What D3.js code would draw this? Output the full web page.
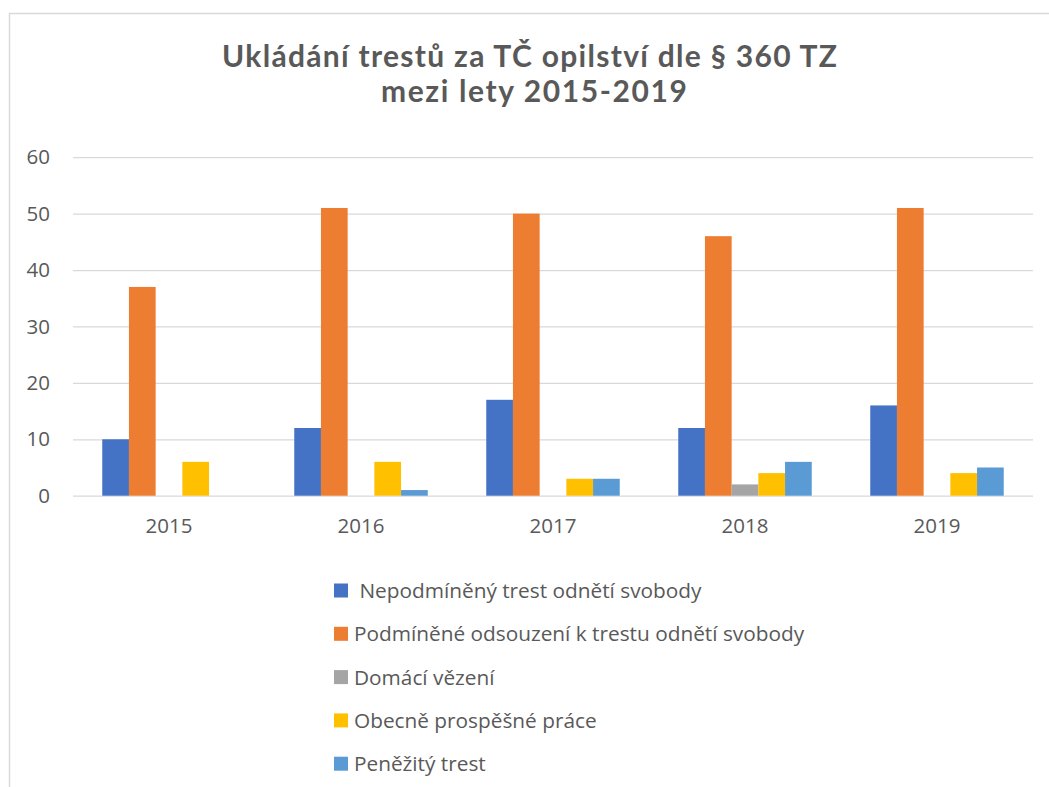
<!DOCTYPE html>
<meta charset="utf-8">
<script src="https://d3js.org/d3.v7.min.js"></script>
<style>
  body { margin: 0; background: #fff; }
  text { fill: #595959; }
</style>
<div id="chart"></div>
<script>
// data
var years = ["2015", "2016", "2017", "2018", "2019"];
var seriesNames = [
  " Nepodmíněný trest odnětí svobody",
  "Podmíněné odsouzení k trestu odnětí svobody",
  "Domácí vězení",
  "Obecně prospěšné práce",
  "Peněžitý trest"
];
var nepodminene = [10, 12, 17, 12, 16];
var podminene = [37, 51, 50, 46, 51];
var domaci = [0, 0, 0, 2, 0];
var obecne = [6, 6, 3, 4, 4];
var penezity = [0, 1, 3, 6, 5];
var yTicks = [0, 10, 20, 30, 40, 50, 60];
var colors = ["#4472C4", "#ED7D31", "#A5A5A5", "#FFC000", "#5B9BD5"];

var values = [nepodminene, podminene, domaci, obecne, penezity];

var W = 1049, H = 787;
var svg = d3.select("#chart").append("svg")
    .attr("width", W)
    .attr("height", H);

// chart area frame
svg.append("rect")
    .attr("x", 9.5).attr("y", 13.5)
    .attr("width", 1200).attr("height", 1000)
    .attr("fill", "none")
    .attr("stroke", "#d9d9d9")
    .attr("stroke-width", 1.5);

// title
var title = svg.append("text")
    .attr("text-anchor", "middle")
    .style("font-family", "Lato, 'Open Sans', sans-serif")
    .style("font-weight", "bold")
    .style("font-size", "30px");
title.append("tspan").attr("x", 529.5).attr("y", 66.5)
    .attr("textLength", 615).attr("lengthAdjust", "spacing")
    .text("Ukládání trestů za TČ opilství dle § 360 TZ");
title.append("tspan").attr("x", 534).attr("y", 101.5)
    .attr("textLength", 306).attr("lengthAdjust", "spacing")
    .text("mezi lety 2015-2019");

var x0 = d3.scaleBand()
    .domain(years)
    .range([73, 1033]);

var x1 = d3.scaleBand()
    .domain(d3.range(seriesNames.length))
    .range([29.25, 162.75]);

var y = d3.scaleLinear()
    .domain([0, 60])
    .range([495.7, 157.2]);

// gridlines
svg.append("g")
    .attr("transform", "translate(73,0)")
    .call(d3.axisLeft(y).tickValues(yTicks).tickSize(-960).tickFormat(""))
    .call(g => g.select(".domain").remove())
    .call(g => g.selectAll("line").attr("stroke", "#d9d9d9").attr("stroke-width", 1.3));

// y labels
svg.append("g")
    .attr("transform", "translate(50,0)")
    .call(d3.axisLeft(y).tickValues(yTicks).tickSize(0).tickPadding(0))
    .call(g => g.select(".domain").remove())
    .call(g => g.selectAll("text")
        .style("font-family", "'Open Sans', sans-serif")
        .style("font-size", "20.5px")
        .attr("fill", "#595959"));

// bars
var groups = svg.append("g")
  .selectAll("g")
  .data(years)
  .enter().append("g")
    .attr("transform", d => "translate(" + x0(d) + ",0)");

groups.selectAll("rect")
  .data((d, i) => values.map((s, k) => ({k: k, v: s[i]})))
  .enter().append("rect")
    .attr("x", d => x1(d.k))
    .attr("width", x1.bandwidth())
    .attr("y", d => y(d.v))
    .attr("height", d => y(0) - y(d.v))
    .attr("fill", d => colors[d.k]);

// x labels
svg.append("g")
    .attr("transform", "translate(0,495.7)")
    .call(d3.axisBottom(x0).tickSize(0).tickPadding(23))
    .call(g => g.select(".domain").remove())
    .call(g => g.selectAll("text")
        .style("font-family", "'Open Sans', sans-serif")
        .style("font-size", "20.5px")
        .attr("fill", "#595959"));

// legend
var legend = svg.append("g")
  .selectAll("g")
  .data(seriesNames)
  .enter().append("g")
    .attr("transform", (d, i) => "translate(334," + (590.5 + i * 43.3) + ")");

legend.append("rect")
    .attr("x", 0).attr("y", -7)
    .attr("width", 14).attr("height", 14)
    .attr("fill", (d, i) => colors[i]);

legend.append("text")
    .attr("x", 20)
    .attr("y", 7.5)
    .style("white-space", "pre")
    .style("font-family", "'Open Sans', sans-serif")
    .style("font-size", "20.8px")
    .text(d => d);
</script>
